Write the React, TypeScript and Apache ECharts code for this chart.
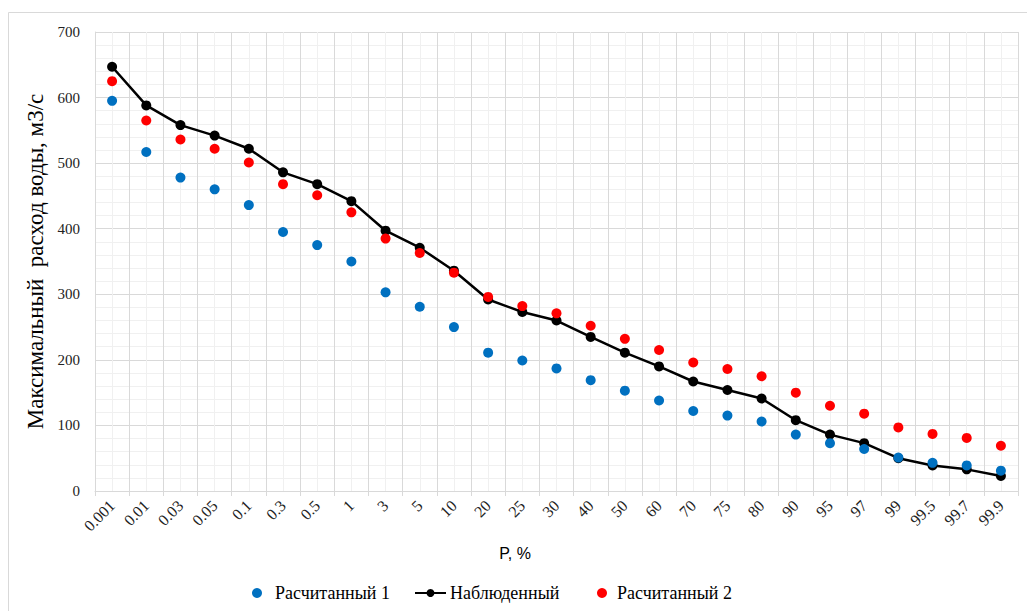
import React, { useEffect, useRef } from "react";
import * as echarts from "echarts";

const categories = ["0.001", "0.01", "0.03", "0.05", "0.1", "0.3", "0.5", "1", "3", "5", "10", "20", "25", "30", "40", "50", "60", "70", "75", "80", "90", "95", "97", "99", "99.5", "99.7", "99.9"];
const observed = [647, 588, 558, 542, 522, 486, 468, 442, 397, 371, 336, 292, 273, 260, 235, 211, 190, 167, 154, 141, 108, 86, 73, 50, 39, 33, 23];
const calc1 = [595, 517, 478, 460, 436, 395, 375, 350, 303, 281, 250, 211, 199, 187, 169, 153, 138, 122, 115, 106, 86, 73, 64, 51, 43, 39, 31];
const calc2 = [625, 565, 536, 522, 501, 468, 451, 425, 385, 363, 333, 296, 282, 271, 252, 232, 215, 196, 186, 175, 150, 130, 118, 97, 87, 81, 69];

const NAME1 = "Расчитанный 1";
const NAME_OBS = "Наблюденный";
const NAME2 = "Расчитанный 2";
const Y_TITLE = "Максимальный  расход воды, м3/с";
const X_TITLE = "P, %";

const SERIF = "'Liberation Serif', 'Times New Roman', serif";

export default function App() {
  const ref = useRef<HTMLDivElement>(null);
  useEffect(() => {
    if (!ref.current) return;
    const chart = echarts.init(ref.current, undefined, { renderer: "svg" });
    const legendText = { fontFamily: SERIF, fontSize: 18, color: "#000" };
    chart.setOption({
      animation: false,
      backgroundColor: "#fff",
      graphic: [
        {
          type: "rect",
          shape: { x: 8.5, y: 12.5, width: 1040, height: 620 },
          style: { fill: "none", stroke: "#d9d9d9", lineWidth: 1 },
          silent: true,
        },
      ],
      grid: { left: 95, right: 9, top: 32, bottom: 120, containLabel: false },
      legend: [
        {
          left: 252,
          top: 584,
          padding: 0,
          itemWidth: 10,
          itemHeight: 10,
          data: [{ name: NAME1, icon: "circle" }],
          textStyle: { ...legendText, padding: [0, 0, 0, 8] },
        },
        {
          left: 414,
          top: 584,
          padding: 0,
          itemWidth: 31,
          itemHeight: 10,
          data: [NAME_OBS],
          textStyle: { ...legendText, padding: [0, 0, 0, -1] },
        },
        {
          left: 597,
          top: 584,
          padding: 0,
          itemWidth: 10,
          itemHeight: 10,
          data: [{ name: NAME2, icon: "circle" }],
          textStyle: { ...legendText, padding: [0, 0, 0, 5] },
        },
      ],
      xAxis: [
        {
          type: "category",
          data: categories,
          boundaryGap: true,
          name: X_TITLE,
          nameLocation: "middle",
          nameGap: 54,
          nameTextStyle: {
            fontFamily: "'Liberation Sans', Arial, sans-serif",
            fontSize: 16,
            color: "#000",
            padding: [0, 83, 0, 0],
          },
          axisLine: { lineStyle: { color: "#d9d9d9", width: 1 } },
          axisTick: { show: true, length: 5, lineStyle: { color: "#d9d9d9" } },
          axisLabel: { rotate: 45, margin: 12, fontFamily: SERIF, fontSize: 16, color: "#222", interval: 0 },
          splitLine: { show: true, lineStyle: { color: "#d9d9d9", width: 1 } },
        },
        {
          type: "value",
          min: 0,
          max: 27,
          interval: 1,
          position: "bottom",
          axisLine: { show: false },
          axisTick: { show: false },
          axisLabel: { show: false },
          splitLine: { show: false },
          minorTick: { show: false, splitNumber: 2 },
          minorSplitLine: { show: true, lineStyle: { color: "#f0f0f0", width: 1 } },
        },
      ],
      yAxis: {
        type: "value",
        min: 0,
        max: 700,
        interval: 100,
        name: Y_TITLE,
        nameLocation: "middle",
        nameGap: 38,
        nameTextStyle: { fontFamily: SERIF, fontSize: 23, color: "#000" },
        axisLine: { show: true, lineStyle: { color: "#d9d9d9" } },
        axisTick: { show: false },
        axisLabel: { margin: 15, fontFamily: SERIF, fontSize: 15, color: "#222" },
        splitLine: { show: true, lineStyle: { color: "#d9d9d9", width: 1 } },
        minorTick: { show: false, splitNumber: 5 },
        minorSplitLine: { show: true, lineStyle: { color: "#f0f0f0", width: 1 } },
      },
      series: [
        {
          name: NAME_OBS,
          type: "line",
          xAxisIndex: 0,
          data: observed,
          symbol: "circle",
          symbolSize: 10,
          lineStyle: { color: "#000", width: 2.5 },
          itemStyle: { color: "#000" },
          z: 3,
        },
        {
          name: NAME1,
          type: "scatter",
          xAxisIndex: 0,
          data: calc1,
          symbol: "circle",
          symbolSize: 10,
          itemStyle: { color: "#0070C0", opacity: 1 },
          z: 4,
        },
        {
          name: NAME2,
          type: "scatter",
          xAxisIndex: 0,
          data: calc2,
          symbol: "circle",
          symbolSize: 10,
          itemStyle: { color: "#FF0000", opacity: 1 },
          z: 4,
        },
      ],
    });
    return () => chart.dispose();
  }, []);
  return (
    <div
      ref={ref}
      style={{ position: "absolute", left: 0, top: 0, width: 1027, height: 611, background: "#fff" }}
    />
  );
}
